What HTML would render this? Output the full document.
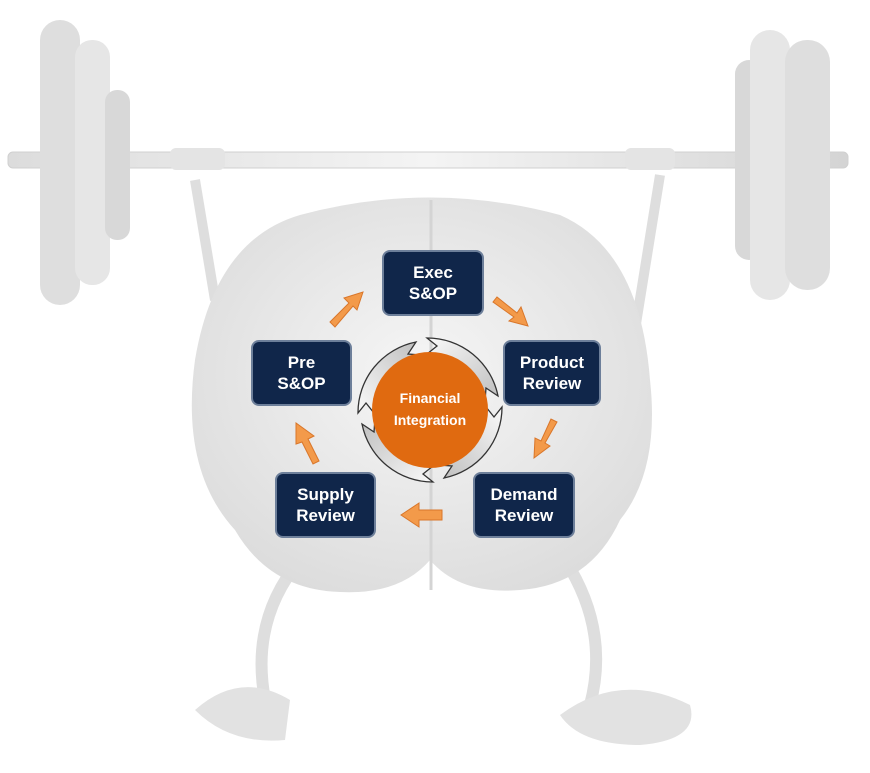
<!DOCTYPE html>
<html><head><style>
body{margin:0;width:870px;height:773px;background:#fff;overflow:hidden;position:relative;font-family:"Liberation Sans",sans-serif}
.b{position:absolute;background:#10264a;border:2px solid #6d7f9a;border-radius:8px;color:#fff;font-weight:bold;font-size:17px;line-height:21px;text-align:center;display:flex;align-items:center;justify-content:center;box-sizing:border-box}
</style></head><body>
<svg width="870" height="773" style="position:absolute;left:0;top:0">
<defs>
<linearGradient id="g" x1="0" x2="1"><stop offset="0" stop-color="#dcdcdc"/><stop offset=".5" stop-color="#f4f4f4"/><stop offset="1" stop-color="#d4d4d4"/></linearGradient>
<radialGradient id="br" cx=".5" cy=".45" r=".6"><stop offset="0" stop-color="#f6f6f6"/><stop offset="1" stop-color="#dcdcdc"/></radialGradient>
<linearGradient id="ar" x1="0" y1="0" x2="1" y2="1"><stop offset="0" stop-color="#fafafa"/><stop offset="1" stop-color="#bdbdbd"/></linearGradient>
</defs>
<path d="M300 560 Q250 620 265 700" stroke="#dedede" stroke-width="12" fill="none"/>
<path d="M565 560 Q610 630 590 705" stroke="#dedede" stroke-width="12" fill="none"/>
<path d="M195 710 Q240 670 290 700 L285 740 Q230 745 195 710Z" fill="#e2e2e2"/>
<path d="M560 715 Q620 670 690 705 Q700 740 640 745 Q580 745 560 715Z" fill="#e2e2e2"/>
<path d="M195 180 L215 300" stroke="#dedede" stroke-width="10"/>
<path d="M660 175 L635 330" stroke="#dedede" stroke-width="10"/>
<path d="M300 215 Q430 180 560 215 Q640 250 650 380 Q660 470 620 520 Q590 585 520 590 Q460 595 430 560 Q400 595 340 592 Q270 590 235 530 Q180 470 195 360 Q215 240 300 215Z" fill="url(#br)"/>
<line x1="431" y1="200" x2="431" y2="590" stroke="#d4d4d4" stroke-width="3"/>
<rect x="8" y="152" width="840" height="16" rx="5" fill="url(#g)" stroke="#d0d0d0"/>
<rect x="170" y="148" width="55" height="22" rx="6" fill="#e4e4e4"/>
<rect x="625" y="148" width="50" height="22" rx="6" fill="#e4e4e4"/>
<rect x="40" y="20" width="40" height="285" rx="20" fill="#dedede"/>
<rect x="75" y="40" width="35" height="245" rx="17" fill="#e6e6e6"/>
<rect x="105" y="90" width="25" height="150" rx="12" fill="#d8d8d8"/>
<rect x="735" y="60" width="28" height="200" rx="14" fill="#d8d8d8"/>
<rect x="750" y="30" width="40" height="270" rx="20" fill="#e6e6e6"/>
<rect x="785" y="40" width="45" height="250" rx="22" fill="#dedede"/>
<g transform="translate(430,410)" fill="url(#ar)" stroke="#333" stroke-width="1.3">
<g id="seg"><path d="M-3 -72 A72 72 0 0 1 68 -14 L56 -22 L55 -8 A56 56 0 0 0 -3 -56 L7 -64Z"/></g>
<use href="#seg" transform="rotate(90)"/>
<use href="#seg" transform="rotate(180)"/>
<use href="#seg" transform="rotate(270)"/>
</g>
<circle cx="430" cy="410" r="58" fill="#e06a10"/>
<g fill="#f39a4a" stroke="#d9762a" stroke-width="1">
<path d="M330 322 L349 303 L344 298 L363 292 L357 310 L353 306 L335 327Z"/>
<path d="M497 297 L517 313 L521 307 L528 326 L509 321 L514 317 L493 302Z"/>
<path d="M551 419 L541 441 L535 438 L534 458 L550 446 L545 443 L557 422Z"/>
<path d="M442 510 L419 510 L419 503 L401 515 L419 527 L419 520 L442 520Z"/>
<path d="M319 461 L308 439 L314 436 L296 423 L296 444 L302 442 L313 464Z"/>
</g>
</svg>
<div class="b" style="left:382px;top:250px;width:102px;height:66px">Exec<br>S&amp;OP</div>
<div class="b" style="left:251px;top:340px;width:101px;height:66px">Pre<br>S&amp;OP</div>
<div class="b" style="left:503px;top:340px;width:98px;height:66px">Product<br>Review</div>
<div class="b" style="left:275px;top:472px;width:101px;height:66px">Supply<br>Review</div>
<div class="b" style="left:473px;top:472px;width:102px;height:66px">Demand<br>Review</div>
<div style="position:absolute;left:372px;top:387px;width:116px;text-align:center;color:#fff;font-weight:bold;font-size:14px;line-height:22px">Financial<br>Integration</div>
</body></html>
